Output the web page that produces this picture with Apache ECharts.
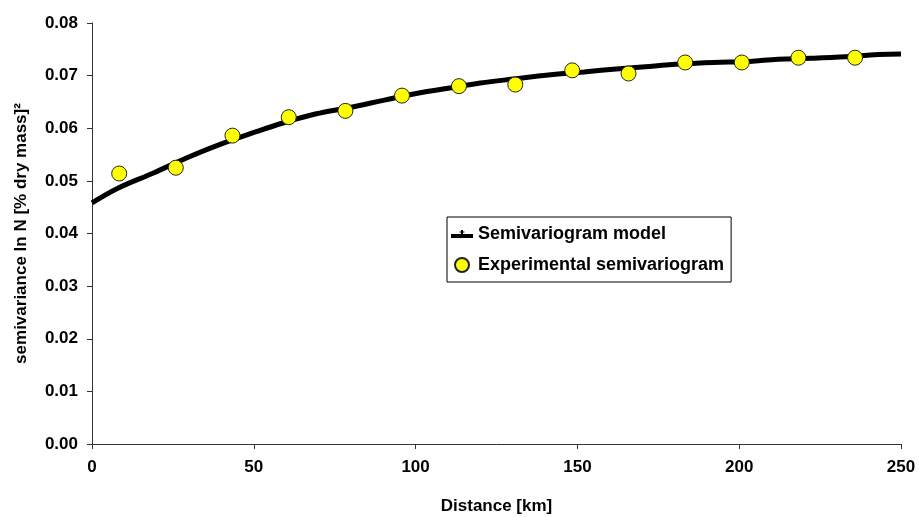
<!DOCTYPE html>
<html>
<head>
<meta charset="utf-8">
<script src="https://cdn.jsdelivr.net/npm/echarts@6/dist/echarts.min.js"></script>
<style>
  html, body { margin: 0; padding: 0; background: #fff; }
  #semiChart { width: 919px; height: 517px; }
</style>
</head>
<body>
<div id="semiChart"></div>
<script>
// 实验半变异函数点 (lag distance km / semivariance)
let lagKm = [8.4, 25.9, 43.4, 60.8, 78.3, 95.8, 113.4, 130.8, 148.4, 165.8, 183.3, 200.8, 218.3, 235.8]
let expGamma = [0.0514, 0.0525, 0.0586, 0.0621, 0.0633, 0.0662, 0.0680, 0.0683, 0.0710, 0.0704, 0.0725, 0.0725, 0.0734, 0.0734]

// 模型曲线，从图上读出的点
let modelKm = [0, 8, 19, 29, 39, 51, 59, 69, 80, 90, 101, 110, 120, 131, 141, 152, 161, 171, 182, 192, 203, 212, 222, 233, 243, 250]
let modelGamma = [0.0458, 0.0486, 0.0515, 0.0543, 0.0568, 0.0594, 0.0610, 0.0627, 0.0640, 0.0653, 0.0667, 0.0676, 0.0686, 0.0694, 0.0701, 0.0707, 0.0712, 0.0717, 0.0722, 0.0725, 0.0727, 0.0731, 0.0733, 0.0736, 0.0740, 0.0741]

let xTicks = [0, 50, 100, 150, 200, 250]
let yTicks = [0, 0.01, 0.02, 0.03, 0.04, 0.05, 0.06, 0.07, 0.08]

let seriesNames = ['Semivariogram model', 'Experimental semivariogram']
let axisNames = ['Distance [km]', 'semivariance ln N [% dry mass]²']

//- 半变异函数图渲染
function renderSemiChart(id){
  let dom = document.getElementById(id)
  if(!dom) return null
  let myChart = echarts.init(dom)
  let font = 'Liberation Sans, Arial, sans-serif'
  let axisText = {color:'#000',fontSize:17,fontWeight:'bold',fontFamily:font}
  let option = {
    animation: false,
    textStyle: {fontFamily: font},
    grid: {left: 92, right: 18, top: 23, bottom: 73, outerBoundsMode: 'none', containLabel: false},
    legend: {
      data: [
        {name: seriesNames[0], icon: 'path://M0,10h22v4h-22z M10,6h2v4h-2z M8.5,7.5h5v1h-5z'},
        {name: seriesNames[1]}
      ],
      orient: 'vertical',
      left: 447, top: 217,
      backgroundColor: '#fff',
      borderColor: '#000', borderWidth: 1, borderRadius: 0,
      padding: [8, 7, 8, 4],
      itemGap: 13, itemWidth: 22, itemHeight: 14,
      textStyle: {color:'#000',fontSize:18,fontWeight:'bold',fontFamily:font}
    },
    xAxis: {
      type: 'value', min: xTicks[0], max: xTicks[xTicks.length-1], interval: xTicks[1]-xTicks[0],
      name: axisNames[0], nameLocation: 'middle', nameGap: 54, nameTextStyle: axisText,
      axisLine: {show:true,lineStyle:{color:'#333',width:1}},
      axisTick: {show:true,length:5,lineStyle:{color:'#333'}},
      axisLabel: Object.assign({margin:15}, axisText),
      splitLine: {show:false}
    },
    yAxis: {
      type: 'value', min: yTicks[0], max: yTicks[yTicks.length-1], interval: 0.01,
      name: axisNames[1], nameLocation: 'middle', nameGap: 62, nameTextStyle: axisText,
      axisLine: {show:true,lineStyle:{color:'#333',width:1}},
      axisTick: {show:true,length:5,lineStyle:{color:'#333'}},
      axisLabel: Object.assign({margin:14,formatter: v => v.toFixed(2)}, axisText),
      splitLine: {show:false}
    },
    series: [
      {
        name: seriesNames[0], type: 'line', smooth: 0.4,
        data: modelKm.map((v,i)=>[v, modelGamma[i]]),
        showSymbol: false, symbol: 'none',
        lineStyle: {color:'#000', width:5},
        itemStyle: {color:'#000'},
        z: 2
      },
      {
        name: seriesNames[1], type: 'scatter',
        data: lagKm.map((v,i)=>[v, expGamma[i]]),
        symbol: 'circle', symbolSize: 15,
        itemStyle: {color:'#ffff00', borderColor:'#222', borderWidth:1, opacity:1},
        z: 3
      }
    ]
  }
  myChart.setOption(option)
  return myChart
}

renderSemiChart('semiChart')
</script>
</body>
</html>
